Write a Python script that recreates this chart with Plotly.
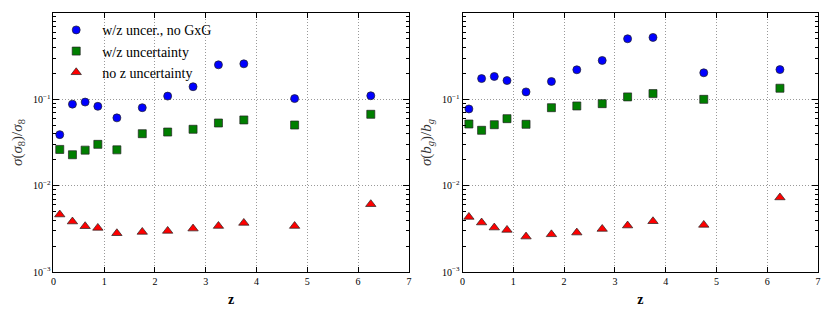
import plotly.graph_objects as go

z = [0.125, 0.375, 0.625, 0.875, 1.25, 1.75, 2.25, 2.75, 3.25, 3.75, 4.75, 6.25]

# left panel: sigma(sigma8)/sigma8
s8_nogxg = [0.039, 0.088, 0.093, 0.083, 0.061, 0.080, 0.109, 0.140, 0.251, 0.258, 0.102, 0.110]
s8_zunc = [0.0263, 0.0228, 0.0258, 0.0301, 0.0260, 0.040, 0.0418, 0.045, 0.0532, 0.0577, 0.0504, 0.0671]
s8_noz = [0.00463, 0.00384, 0.00339, 0.00324, 0.00281, 0.00291, 0.00299, 0.00318, 0.00341, 0.00370, 0.00341, 0.0061]

# right panel: sigma(b_g)/b_g
bg_nogxg = [0.0774, 0.174, 0.184, 0.165, 0.122, 0.161, 0.220, 0.282, 0.503, 0.521, 0.203, 0.221]
bg_zunc = [0.0518, 0.0438, 0.0508, 0.0597, 0.0514, 0.080, 0.0838, 0.0891, 0.1067, 0.1165, 0.100, 0.1345]
bg_noz = [0.00434, 0.00374, 0.00327, 0.00307, 0.00257, 0.00273, 0.00286, 0.00315, 0.00345, 0.00387, 0.00351, 0.0073]

names = ["w/z uncer., no GxG", "w/z uncertainty", "no z uncertainty"]
symbols = ["circle", "square", "triangle-up"]
colors = ["#0000ff", "#007f00", "#ff0000"]
sizes = [8, 8, 9]

ytickvals = [1e-3, 1e-2, 1e-1, 1]
yticktext = ["10<sup>−3</sup>", "10<sup>−2</sup>", "10<sup>−1</sup>", "10<sup>0</sup>"]
xtickvals = [0, 1, 2, 3, 4, 5, 6, 7]

FONT = "Liberation Serif"

fig = go.Figure()
left = [s8_nogxg, s8_zunc, s8_noz]
right = [bg_nogxg, bg_zunc, bg_noz]
for i in range(3):
    fig.add_trace(go.Scatter(x=z, y=left[i], mode="markers", name=names[i],
                             marker=dict(symbol=symbols[i], color=colors[i], size=sizes[i],
                                         line=dict(color="#222222", width=0.7)),
                             xaxis="x", yaxis="y", showlegend=True))
for i in range(3):
    fig.add_trace(go.Scatter(x=z, y=right[i], mode="markers", name=names[i],
                             marker=dict(symbol=symbols[i], color=colors[i], size=sizes[i],
                                         line=dict(color="#222222", width=0.7)),
                             xaxis="x2", yaxis="y2", showlegend=False))

minor_vals = [m * 10 ** e for e in (-3, -2, -1) for m in range(2, 10)]
GRIDDASH = "1px,2px"

def xax(domain, anchor):
    return dict(domain=domain, anchor=anchor, range=[0, 7], tickvals=xtickvals,
                ticks="inside", ticklen=5, tickcolor="black", showline=True, linecolor="black",
                linewidth=1, mirror="ticks", showgrid=True, gridcolor="#999999", griddash=GRIDDASH,
                gridwidth=1, zeroline=False, tickfont=dict(family=FONT, size=10, color="black"),
                title=dict(text="<b>z</b>", font=dict(family=FONT, size=14, color="black"), standoff=8))

def yax(domain, anchor, title):
    return dict(domain=domain, anchor=anchor, type="log", range=[-3, 0], tickmode="array",
                tickvals=ytickvals, ticktext=yticktext, ticks="inside", ticklen=6, tickcolor="black",
                showline=True, linecolor="black", linewidth=1, mirror="ticks", showgrid=True,
                gridcolor="#999999", griddash=GRIDDASH, gridwidth=1, zeroline=False,
                minor=dict(tickvals=minor_vals, ticks="inside", ticklen=3, tickcolor="black", showgrid=False),
                tickfont=dict(family=FONT, size=10, color="black"),
                title=dict(text=title, font=dict(family=FONT, size=15, color="#333333"), standoff=6))

fig.update_layout(
    width=822, height=304,
    margin=dict(l=0, r=0, t=5, b=40),
    paper_bgcolor="white", plot_bgcolor="white",
    xaxis=xax([0.0519, 0.4870], "y"),
    yaxis=yax([0, 1], "x", "<i>σ</i>(<i>σ</i><sub>8</sub>)/<i>σ</i><sub>8</sub>"),
    xaxis2=xax([0.5527, 0.9878], "y2"),
    yaxis2=yax([0, 1], "x2", "<i>σ</i>(<i>b<sub>g</sub></i>)/<i>b<sub>g</sub></i>"),
    legend=dict(x=0.048, y=0.995, xanchor="left", yanchor="top", bgcolor="rgba(0,0,0,0)",
                font=dict(family=FONT, size=14, color="black"), tracegroupgap=0,
                itemsizing="trace", itemwidth=42),
    showlegend=True,
)

fig.write_html("out.html")
